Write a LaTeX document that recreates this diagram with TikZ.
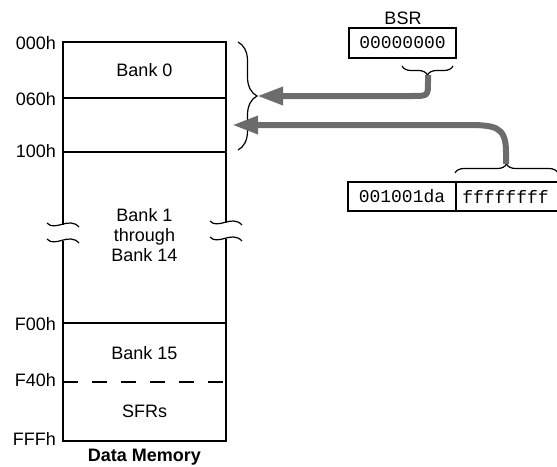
\documentclass[tikz,border=0pt]{standalone}
\usepackage{fontspec}
\setmainfont{Liberation Sans}
\setmonofont{Liberation Mono}
\usetikzlibrary{arrows.meta,decorations.pathreplacing}
\definecolor{ptrgray}{RGB}{108,108,108}

\begin{document}
\begin{tikzpicture}[x=1pt,y=-1pt,font=\fontsize{18}{20}\selectfont,
  mem/.style={line width=2pt},
  addr/.style={anchor=base east,inner sep=0pt},
  txt/.style={anchor=base,inner sep=0pt},
  reg/.style={draw,line width=1.6pt,minimum height=29.5pt,inner sep=0pt,outer sep=0pt,font=\fontsize{18}{20}\ttfamily},
  brc/.style={decorate,decoration={brace,amplitude=#1},line width=1.2pt},
  wave/.style={line width=1.2pt},
  ptr/.style={line width=6pt,draw=ptrgray,-{Triangle[length=26pt,width=17pt]}}]
\path[use as bounding box] (0,0) rectangle (557,466);
\clip (0,0) rectangle (557,466);

\draw[mem] (63,225)--(63,42)--(226,42)--(226,223);
\draw[mem] (63,241)--(63,441)--(226,441)--(226,239);
\draw[mem] (63,98)--(226,98);
\draw[mem] (63,152)--(226,152);
\draw[mem] (63,323)--(226,323);
\draw[mem,dash pattern=on 15pt off 14pt] (63,382)--(226,382);

\draw[wave] (47,223) .. controls (55,232) and (69,216) .. (79,227);
\draw[wave] (47,239) .. controls (55,248) and (69,232) .. (79,243);
\draw[wave] (210,221) .. controls (218,230) and (232,214) .. (242,225);
\draw[wave] (210,237) .. controls (218,246) and (232,230) .. (242,241);

\node[addr] (a000) at (56,49) {000h};
\node[addr] (a060) at (56,105) {060h};
\node[addr] (a100) at (56,157.5) {100h};
\node[addr] (aF00) at (56,330.5) {F00h};
\node[addr] (aF40) at (56,386) {F40h};
\node[addr] (aFFF) at (56,445) {FFFh};

\node[txt] (bank0) at (144.5,76) {Bank 0};
\node[align=center,inner sep=0pt] (bank1) at (144.5,235) {Bank 1\\through\\Bank 14};
\node[txt] (bank15) at (144.5,359) {Bank 15};
\node[txt] (sfrs) at (144.5,417.5) {SFRs};
\node[txt] (dmem) at (144.5,461.5) {\bfseries Data Memory};

\node[txt] (bsrlbl) at (403,24) {BSR};
\node[reg,minimum width=107pt] (bsr) at (402.5,43) {00000000};
\node[reg,minimum width=108pt] (hi) at (402,196.5) {001001da};
\node[reg,draw=none,minimum width=99pt,anchor=west] (lo) at (hi.east) {ffffffff};
\draw[line width=1.6pt] (hi.north east)--++(110,0);
\draw[line width=1.6pt] (hi.south east)--++(110,0);

\draw[brc=19pt] (238,42)--(238,150);
\draw[brc=9pt] (453,66)--(402,66);
\draw[brc=9pt] (455,173)--(558,173);

\coordinate (bsrtip) at (428,75);
\coordinate (banktip) at (257,96);
\coordinate (offtip) at (506,164);
\coordinate (addrtip) at (232,125);

\draw[ptr] (bsrtip)--(428,82) .. controls (428,96) .. (412,96)--(banktip);
\draw[ptr] (offtip)--(506,152) .. controls (506,126) and (495,125) .. (465,125)--(addrtip);
\end{tikzpicture}
\end{document}
